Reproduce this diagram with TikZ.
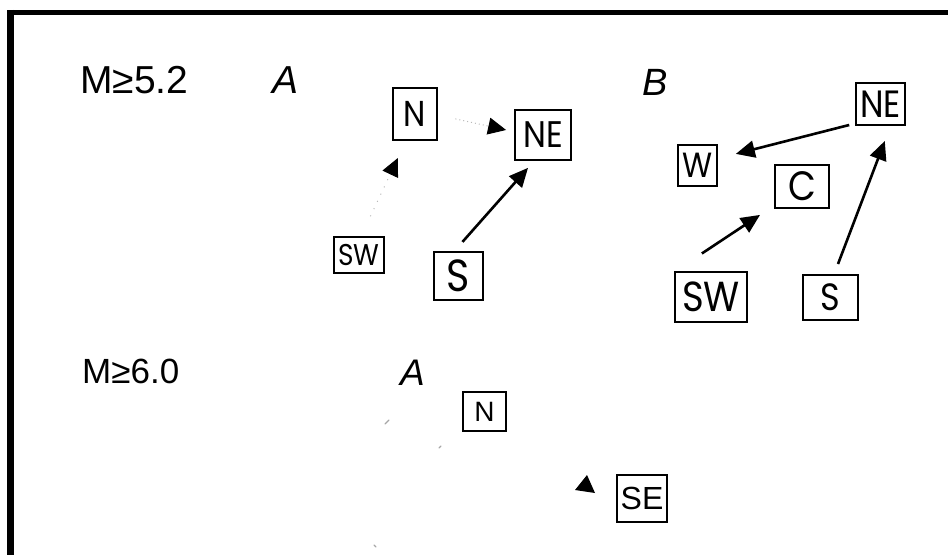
\documentclass[tikz,border=0pt]{standalone}
\usepackage{fontspec}
\setmainfont{Liberation Sans}
\newfontfamily\geo[FakeStretch=0.88]{Poppins}
\usetikzlibrary{arrows.meta}
\newcommand\gsz[1]{\geo\fontsize{#1}{#1}\selectfont}
\newcommand\hsz[1]{\fontsize{#1}{#1}\selectfont}
\begin{document}
\begin{tikzpicture}[x=1pt,y=-1pt,
  box/.style={draw, line width=1.6pt, inner sep=0pt},
  lbl/.style={anchor=base west, inner sep=0pt},
  solidarrow/.style={line width=2.6pt, -{Triangle[length=19pt,width=17pt]}},
  dotarrow/.style={draw=gray!55, line width=1pt, dash pattern=on 1pt off 3pt,
    -{Triangle[length=18pt,width=17pt,color=black]}},
  faint/.style={draw=gray!70, line width=1.2pt, line cap=round}]
\useasboundingbox (0,0) rectangle (948,555);
% frame
\draw[line width=5.5pt] (7,12.5) -- (948,12.5);
\draw[line width=6.5pt] (10.5,9.75) -- (10.5,555);

% labels
\node[lbl, font=\hsz{39}] (m1) at (80,93) {M≥5.2};
\node[lbl, font=\itshape\hsz{39}] (tA) at (272,93) {A};
\node[lbl, font=\itshape\hsz{38}] (tB) at (642,95) {B};
\node[lbl, font=\hsz{35}] (m2) at (82,383) {M≥6.0};
\node[lbl, font=\itshape\hsz{37}] (tA2) at (400,385) {A};

% panel A (M>=5.2)
\node[box, font=\gsz{36}, minimum width=44pt, minimum height=52pt] (aN) at (415,114) {N};
\node[box, line width=2.2pt, font=\gsz{37}, minimum width=56pt, minimum height=50pt] (aNE) at (543,135) {NE};
\node[box, font=\gsz{30}, minimum width=50pt, minimum height=36pt] (aSW) at (359,255) {SW};
\node[box, line width=2.2pt, font=\gsz{45}, minimum width=49pt, minimum height=48pt] (aS) at (458.5,276) {S};

\draw[solidarrow, shorten <=12pt, shorten >=9pt] ([xshift=-4pt]aS.north) -- ([xshift=-9pt]aNE.south);
\draw[dotarrow, shorten <=18pt, shorten >=8pt] ([yshift=-1pt]aN.east) -- ([yshift=3.3pt]aNE.west);
\draw[dotarrow, dash pattern=on 1pt off 7pt, shorten <=22pt, shorten >=19pt] ([xshift=2pt]aSW.north) -- ([xshift=-9pt]aN.south);

% panel B
\node[box, line width=2pt, font=\gsz{38}, minimum width=49pt, minimum height=42pt] (bNE) at (880.5,104) {NE};
\node[box, font=\gsz{35}, minimum width=39pt, minimum height=41pt] (bW) at (697.5,165.5) {W};
\node[box, font=\gsz{41}, minimum width=54pt, minimum height=43pt] (bC) at (802,186.5) {C};
\node[box, font=\gsz{42}, minimum width=72pt, minimum height=50pt] (bSW) at (711,297) {SW};
\node[box, line width=2pt, font=\gsz{38}, minimum width=55pt, minimum height=45pt] (bS) at (830.5,297.5) {S};

\draw[solidarrow, shorten <=6pt, shorten >=18.6pt] ([yshift=-19.5pt]bNE.west) -- ([yshift=7pt]bW.east);
\draw[solidarrow, shorten <=32pt, shorten >=17pt] ([xshift=1pt]bSW.north west) -- ([yshift=-19pt]bC.west);
\draw[solidarrow, shorten <=10.7pt, shorten >=16pt] ([xshift=3.7pt]bS.north) -- ([xshift=10pt]bNE.south);

% lower panel (M>=6.0)
\node[box, line width=1.4pt, font=\hsz{28}, minimum width=43pt, minimum height=39pt] (cN) at (484.5,411.5) {N};
\node[box, line width=1.8pt, font=\hsz{32}, minimum width=50pt, minimum height=47pt] (cSE) at (642,498.5) {SE};
\fill (587,475) -- (575,490) -- (595,493) -- cycle;
\draw[faint] (385,424) -- (389,420);
\draw[faint] (439,448) -- (441,446);
\draw[faint] (374,545) -- (376,547);
\end{tikzpicture}
\end{document}
